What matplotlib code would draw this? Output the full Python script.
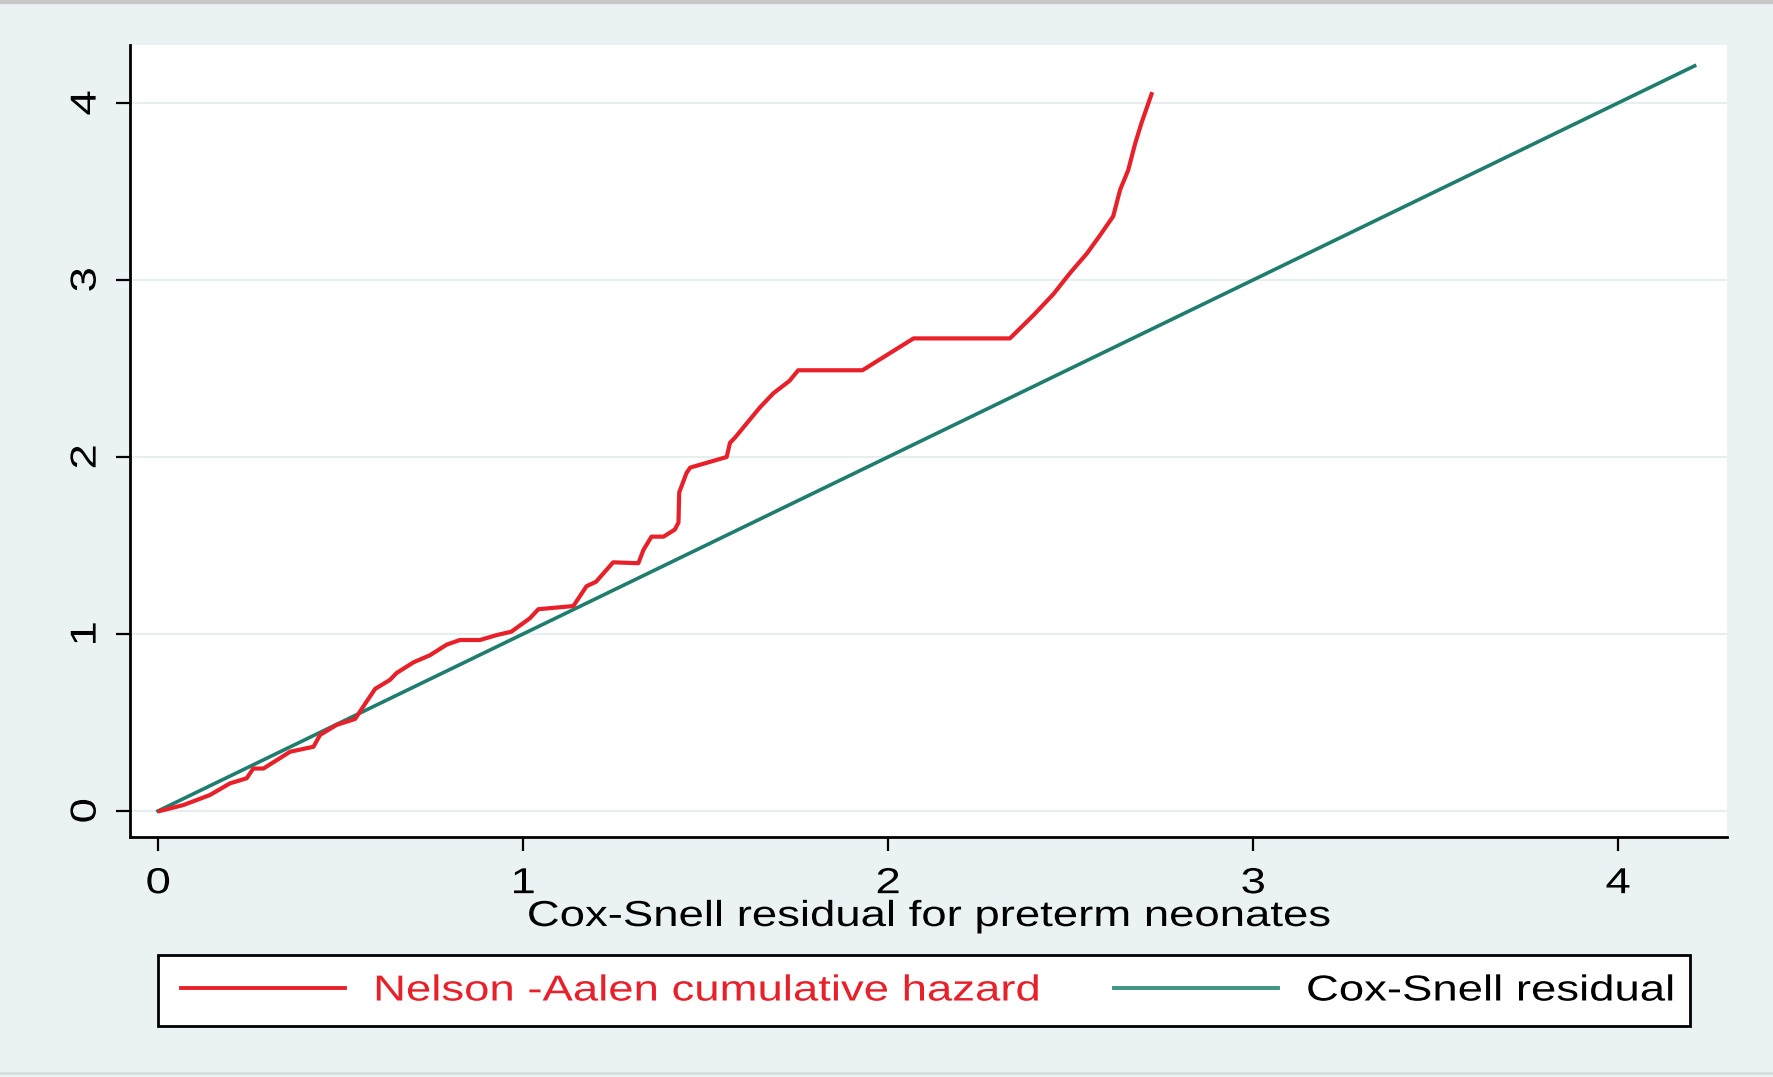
import matplotlib
matplotlib.use("Agg")
import matplotlib.pyplot as plt
from matplotlib.lines import Line2D
from matplotlib.patches import Rectangle
from matplotlib.patheffects import AbstractPathEffect
from matplotlib.transforms import Affine2D

# Nelson-Aalen cumulative hazard vs Cox-Snell residual
na_x = [0.005, 0.07, 0.142, 0.197, 0.243, 0.261, 0.289, 0.362, 0.426, 0.444,
        0.489, 0.54, 0.572, 0.595, 0.635, 0.654, 0.70, 0.745, 0.791, 0.827,
        0.882, 0.928, 0.968, 1.019, 1.042, 1.138, 1.174, 1.20, 1.247, 1.316,
        1.33, 1.352, 1.385, 1.416, 1.426, 1.428, 1.448, 1.458, 1.558, 1.567,
        1.581, 1.649, 1.686, 1.73, 1.754, 1.93, 2.00, 2.07, 2.334, 2.398,
        2.453, 2.499, 2.545, 2.58, 2.617, 2.636, 2.658, 2.677, 2.695, 2.722]
na_y = [0.00, 0.034, 0.09, 0.156, 0.185, 0.24, 0.24, 0.335, 0.363, 0.43,
        0.486, 0.52, 0.62, 0.69, 0.74, 0.78, 0.84, 0.88, 0.94, 0.966,
        0.966, 0.994, 1.013, 1.089, 1.14, 1.158, 1.27, 1.295, 1.405, 1.40,
        1.475, 1.55, 1.55, 1.59, 1.63, 1.80, 1.91, 1.94, 2.00, 2.08,
        2.11, 2.28, 2.36, 2.43, 2.49, 2.49, 2.58, 2.67, 2.67, 2.80,
        2.92, 3.04, 3.15, 3.25, 3.36, 3.51, 3.62, 3.77, 3.89, 4.05]
# Cox-Snell residual reference line (45 degree)
cs_x = [0.0, 4.21]
cs_y = [0.0, 4.21]

x_ticks = [0, 1, 2, 3, 4]
y_ticks = [0, 1, 2, 3, 4]
xlabel = "Cox-Snell residual for preterm neonates"
legend_labels = ["Nelson -Aalen cumulative hazard", "Cox-Snell residual"]

RED = "#e8202a"
TEAL = "#1f7d6e"
TEAL_LEG = "#3f9484"
BG = "#eaf2f4"
FS = 26
STRETCH = 1.26


class Stretch(AbstractPathEffect):
    """Widen glyphs along the text direction (wide Stata-like lettering)."""

    def __init__(self, sx=1.0, sy=1.0, anchor="center"):
        super().__init__()
        self.sx, self.sy, self.anchor = sx, sy, anchor

    def draw_path(self, renderer, gc, tpath, affine, rgbFace=None):
        verts = affine.transform(tpath.vertices)
        if len(verts) == 0:
            return
        xmin, xmax = verts[:, 0].min(), verts[:, 0].max()
        ymin, ymax = verts[:, 1].min(), verts[:, 1].max()
        cx = xmin if self.anchor == "left" else 0.5 * (xmin + xmax)
        cy = 0.5 * (ymin + ymax)
        aff = affine + Affine2D().translate(-cx, -cy).scale(self.sx, self.sy).translate(cx, cy)
        renderer.draw_path(gc, tpath, aff, rgbFace)


plt.rcParams['font.family'] = ['Liberation Sans', 'DejaVu Sans']

W, H = 1773, 1077
fig = plt.figure(figsize=(W / 100, H / 100), dpi=100)
fig.patch.set_facecolor(BG)

left, right, top, bottom = 130, 1727, 45, 837
ax = fig.add_axes([left / W, 1 - bottom / H, (right - left) / W, (bottom - top) / H])
ax.set_facecolor("white")

x0 = -28 / 365
x1 = (right - 158) / 365
y0 = -(bottom - 811) / 177
y1 = 4 + (103 - top) / 177
ax.set_xlim(x0, x1)
ax.set_ylim(y0, y1)

for yt in y_ticks:
    ax.axhline(yt, color="#e6eef0", lw=1.5, zorder=0)

ax.plot(na_x, na_y, color=RED, lw=3.0, zorder=3, solid_joinstyle="round")
ax.plot(cs_x, cs_y, color=TEAL, lw=2.6, zorder=2)

for s in ["top", "right"]:
    ax.spines[s].set_visible(False)
for s in ["left", "bottom"]:
    ax.spines[s].set_linewidth(2)
    ax.spines[s].set_color("black")

ax.set_xticks(x_ticks)
ax.set_yticks(y_ticks)
ax.tick_params(axis="both", direction="out", length=10, width=1.6, labelsize=FS)
ax.tick_params(axis="x", pad=11)
ax.tick_params(axis="y", pad=9, labelrotation=90)
for lab in ax.get_xticklabels():
    lab.set_path_effects([Stretch(sx=STRETCH)])
for lab in ax.get_yticklabels():
    lab.set_va("center")
    lab.set_path_effects([Stretch(sy=STRETCH)])

ax.set_xlabel(xlabel, fontsize=FS)
ax.xaxis.set_label_coords(0.5, (bottom - 926) / (bottom - top))
ax.xaxis.label.set_va("baseline")
ax.xaxis.label.set_path_effects([Stretch(sx=STRETCH)])

# legend box
lx0, lx1, ly0, ly1 = 158, 1690, 955, 1026
fig.add_artist(Rectangle((lx0 / W, 1 - ly1 / H), (lx1 - lx0) / W, (ly1 - ly0) / H,
                         transform=fig.transFigure, facecolor="white",
                         edgecolor="black", linewidth=2, zorder=1))
handles = [Line2D([], [], color=RED, lw=2.8), Line2D([], [], color=TEAL_LEG, lw=2.8)]
leg = fig.legend(handles, legend_labels, ncol=2, loc="center left",
                 bbox_to_anchor=(181 / W, 1 - 991 / H),
                 fontsize=FS, frameon=False, borderpad=0, borderaxespad=0,
                 handlelength=4.54, handletextpad=0.78, columnspacing=5.85)
leg.set_zorder(5)
for t in leg.get_texts():
    t.set_path_effects([Stretch(sx=STRETCH, anchor="left")])
leg.get_texts()[0].set_color(RED)

fig.add_artist(Line2D([0, 1], [1 - 2 / H, 1 - 2 / H], color="#c8c8c8", lw=3, transform=fig.transFigure))
fig.add_artist(Line2D([0, 1], [4 / H, 4 / H], color="#d8dcdc", lw=2, transform=fig.transFigure))

fig.savefig("out.png", dpi=100, facecolor=BG)
